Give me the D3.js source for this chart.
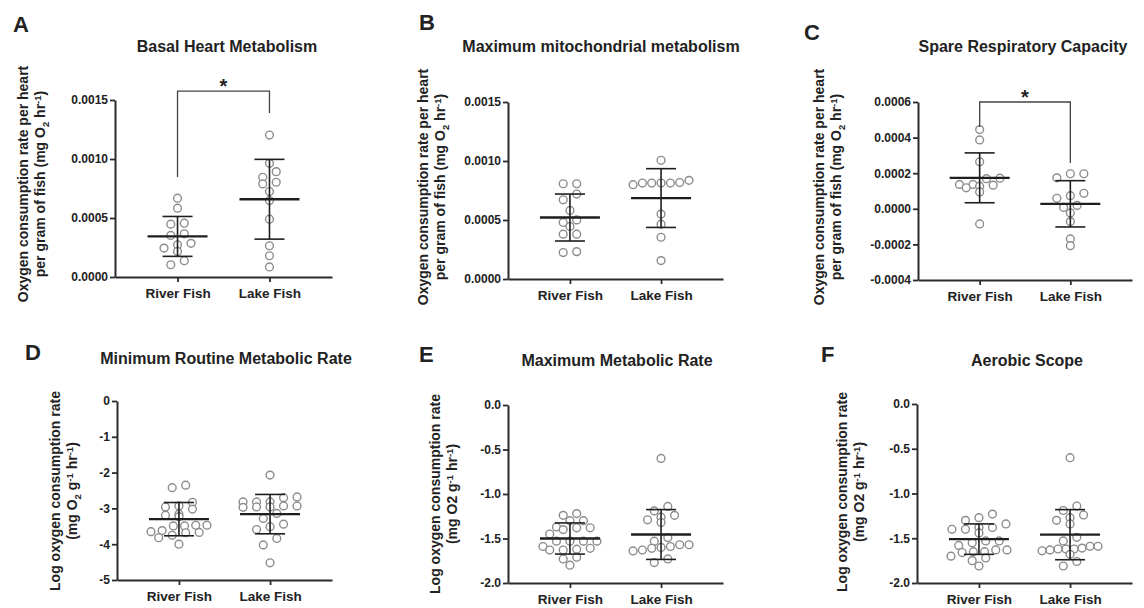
<!DOCTYPE html>
<html>
<head>
<meta charset="utf-8">
<script src="https://cdn.jsdelivr.net/npm/d3@7"></script>
<style>
body{margin:0;background:#fff;}
svg text{font-family:"Liberation Sans",Arial,sans-serif;font-weight:bold;fill:#222;}
</style>
</head>
<body>
<div id="chart"></div>
<script>
const w = 1144;
const h = 608;

const groups = ["River Fish", "Lake Fish"];

// A - basal heart metabolism
const basalRiver = [0.000668,0.000583,0.000456,0.000448,0.000366,0.000352,0.000285,0.000273,0.000245,0.000217,0.000138,0.000104];
const basalLake = [0.001203,0.000963,0.000893,0.000845,0.000803,0.000789,0.000724,0.000648,0.00049,0.000265,0.00018,0.000085];
const basalMean = [0.000344, 0.000659];
const basalSD = [0.000169, 0.000338];
const basalBracket = [0.001576, 0.000847, 0.00139]; // top, left leg end, right leg end

// B - maximum mitochondrial metabolism
const mitoRiver = [0.000807,0.000807,0.00072,0.000671,0.000581,0.000501,0.000479,0.000445,0.00038,0.00038,0.000232,0.000224];
const mitoLake = [0.001006,0.000836,0.000813,0.000813,0.000813,0.000813,0.000818,0.000799,0.00055,0.000465,0.000354,0.000156];
const mitoMean = [0.000521, 0.000686];
const mitoSD = [0.000199, 0.000249];

// C - spare respiratory capacity
const spareRiver = [0.000445,0.000387,0.000264,0.000172,0.000169,0.000137,0.000137,0.000133,0.000127,0.000118,0.000095,-0.000085];
const spareLake = [0.000197,0.000197,0.000174,0.000087,0.000074,0.000059,0.000019,0.000008,-0.000023,-0.000072,-0.000169,-0.000207];
const spareMean = [0.000174, 0.000028];
const spareSD = [0.00014, 0.00013];
const spareBracket = [0.0006, 0.00046, 0.000257];

// D - minimum routine metabolic rate (log)
const mrmrRiver = [-2.35,-2.42,-2.83,-2.93,-2.96,-3.02,-3.16,-3.19,-3.23,-3.47,-3.47,-3.49,-3.49,-3.62,-3.65,-3.67,-3.68,-3.75,-3.82,-4.0];
const mrmrLake = [-2.07,-2.68,-2.70,-2.82,-2.82,-2.82,-2.93,-2.93,-2.96,-2.96,-2.97,-3.14,-3.28,-3.44,-3.51,-3.59,-3.84,-4.02,-4.52];
const mrmrMean = [-3.30, -3.16];
const mrmrSD = [0.465, 0.55];

// E - maximum metabolic rate (log)
const mmrRiver = [-1.22,-1.24,-1.30,-1.30,-1.37,-1.38,-1.38,-1.40,-1.45,-1.53,-1.53,-1.53,-1.53,-1.59,-1.61,-1.62,-1.63,-1.63,-1.71,-1.73,-1.80];
const mmrLake = [-0.60,-1.14,-1.19,-1.24,-1.26,-1.29,-1.32,-1.49,-1.53,-1.57,-1.57,-1.59,-1.60,-1.61,-1.63,-1.64,-1.73,-1.77];
const mmrMean = [-1.50, -1.455];
const mmrSD = [0.175, 0.28];

// F - aerobic scope (log)
const scopeRiver = [-1.23,-1.27,-1.30,-1.34,-1.38,-1.38,-1.40,-1.40,-1.44,-1.53,-1.53,-1.55,-1.58,-1.63,-1.63,-1.65,-1.65,-1.66,-1.70,-1.72,-1.75,-1.81];
const scopeLake = [-0.60,-1.14,-1.19,-1.24,-1.27,-1.30,-1.34,-1.49,-1.53,-1.59,-1.59,-1.61,-1.62,-1.62,-1.62,-1.63,-1.64,-1.68,-1.76,-1.81];
const scopeMean = [-1.51, -1.46];
const scopeSD = [0.17, 0.28];

// tick values
const ticksHeart = [0, 0.0005, 0.001, 0.0015];
const ticksSpare = [-0.0004, -0.0002, 0, 0.0002, 0.0004, 0.0006];
const ticksMrmr = [0, -1, -2, -3, -4, -5];
const ticksLog = [0, -0.5, -1, -1.5, -2];

// axis label lines: [text, shift] shift 1 = subscript, -1 = superscript
const heartLabel = ["Oxygen consumption rate per heart",
  [["per gram of fish (mg O",0],["2",1],[" hr",0],["-1",-1],[")",0]]];
const logLabelSub = ["Log oxygen consumption rate",
  [["(mg O",0],["2",1],[" g",0],["-1",-1],[" hr",0],["-1",-1],[")",0]]];
const logLabel = ["Log oxygen consumption rate",
  [["(mg O2 g",0],["-1",-1],[" hr",0],["-1",-1],[")",0]]];

// hyphen minus like the original
const loc = d3.formatLocale({decimal:".", thousands:",", grouping:[3], currency:["$",""], minus:"-"});

const panels = [
  {letter:"A", lx:13, ly:32, title:"Basal Heart Metabolism", tx:227, ty:52,
   left:115, right:332, top:100, bottom:277, domain:[0,0.0015], ticks:ticksHeart, fmt:".4f",
   data:[basalRiver,basalLake], mean:basalMean, sd:basalSD, bracket:basalBracket,
   label:heartLabel, labX:28, labY:184},
  {letter:"B", lx:419, ly:30, title:"Maximum mitochondrial metabolism", tx:601, ty:52,
   left:508, right:723, top:102, bottom:279, domain:[0,0.0015], ticks:ticksHeart, fmt:".4f",
   data:[mitoRiver,mitoLake], mean:mitoMean, sd:mitoSD, bracket:null,
   label:heartLabel, labX:428, labY:187},
  {letter:"C", lx:804, ly:40, title:"Spare Respiratory Capacity", tx:1023, ty:52,
   left:918, right:1132, top:102, bottom:280, domain:[-0.0004,0.0006], ticks:ticksSpare, fmt:".4f",
   data:[spareRiver,spareLake], mean:spareMean, sd:spareSD, bracket:spareBracket,
   label:heartLabel, labX:824, labY:187},
  {letter:"D", lx:25, ly:360, title:"Minimum Routine Metabolic Rate", tx:226, ty:364,
   left:117, right:332, top:401, bottom:580, domain:[-5,0], ticks:ticksMrmr, fmt:"d",
   data:[mrmrRiver,mrmrLake], mean:mrmrMean, sd:mrmrSD, bracket:null,
   label:logLabelSub, labX:60, labY:491},
  {letter:"E", lx:419, ly:362, title:"Maximum Metabolic Rate", tx:617, ty:366,
   left:508, right:723, top:405, bottom:583, domain:[-2,0], ticks:ticksLog, fmt:".1f",
   data:[mmrRiver,mmrLake], mean:mmrMean, sd:mmrSD, bracket:null,
   label:logLabel, labX:440, labY:494},
  {letter:"F", lx:821, ly:362, title:"Aerobic Scope", tx:1027, ty:366,
   left:917, right:1132, top:404, bottom:583, domain:[-2,0], ticks:ticksLog, fmt:".1f",
   data:[scopeRiver,scopeLake], mean:scopeMean, sd:scopeSD, bracket:null,
   label:logLabel, labX:847, labY:492}
];

const r = 3.9;       // dot radius
const rowH = 6.5;    // px window for one swarm row
const stepMax = 13.5;
const halfMax = 28;

//Spread points that sit at about the same height into centred rows
function swarm(values, y, cx){
  const pts = values.map(v => ({v: v, py: y(v)})).sort((a,b) => a.py - b.py);
  const rows = [];
  let row = null;
  pts.forEach(p => {
    if(!row || p.py - row[0].py > rowH){ row = []; rows.push(row); }
    row.push(p);
  });
  rows.forEach(rw => {
    const n = rw.length;
    const step = n > 1 ? Math.min(stepMax, 2*halfMax/(n-1)) : 0;
    rw.sort((a,b) => a.v - b.v);
    rw.forEach((p,i) => p.px = cx + (i - (n-1)/2)*step);
  });
  return pts;
}

const svg = d3.select("#chart")
.append("svg")
.attr("width", w)
.attr("height", h)
.style("background", "#fff");

panels.forEach(p => {
  const g = svg.append("g");
  const fmt = loc.format(p.fmt);

  const y = d3.scaleLinear().domain(p.domain).range([p.bottom, p.top]);
  const x = d3.scalePoint().domain(groups).range([p.left, p.right]).padding(0.68);

  //Letter and title
  g.append("text").attr("x", p.lx).attr("y", p.ly)
  .style("font-size", "22px").text(p.letter);
  g.append("text").attr("x", p.tx).attr("y", p.ty)
  .attr("text-anchor", "middle").style("font-size", "16px").text(p.title);

  //Y axis
  const yAxis = g.append("g")
  .attr("transform", `translate(${p.left},0)`)
  .call(d3.axisLeft(y).tickValues(p.ticks).tickFormat(fmt).tickSize(5).tickSizeOuter(0).tickPadding(2));
  //X axis
  const xAxis = g.append("g")
  .attr("transform", `translate(0,${p.bottom})`)
  .call(d3.axisBottom(x).tickSize(5).tickSizeOuter(0).tickPadding(6));

  [yAxis, xAxis].forEach(a => {
    a.select(".domain").attr("stroke", "#2a2a2a").attr("stroke-width", 2);
    a.selectAll(".tick line").attr("stroke", "#2a2a2a").attr("stroke-width", 1.8);
    a.selectAll(".tick text").attr("fill", "#222")
    .style("font-family", "'Liberation Sans',Arial,sans-serif").style("font-weight", "bold");
  });
  yAxis.selectAll(".tick text").style("font-size", "12px");
  xAxis.selectAll(".tick text").style("font-size", "13.5px");

  //Y label, two rotated lines
  const lab = g.append("text")
  .attr("transform", `translate(${p.labX},${p.labY}) rotate(-90)`)
  .attr("text-anchor", "middle").style("font-size", "14px");
  lab.append("tspan").attr("x", 0).attr("y", 0).text(p.label[0]);
  const l2 = lab.append("tspan").attr("x", 0).attr("y", 17);
  let shift = 0;
  p.label[1].forEach(([t, s]) => {
    const dy = s*4 - shift;
    shift = s*4;
    l2.append("tspan").attr("dy", dy).style("font-size", s ? "9.5px" : "14px").text(t);
  });

  //Dots
  groups.forEach((grp, gi) => {
    const cx = x(grp);
    const pts = swarm(p.data[gi], y, cx);
    g.append("g").selectAll("circle")
    .data(pts).enter()
    .append("circle")
    .attr("cx", d => d.px)
    .attr("cy", d => d.py)
    .attr("r", r)
    .attr("fill", "#fff")
    .attr("stroke", "#8c8c8c")
    .attr("stroke-width", 1.4);

    //Mean with SD
    const m = p.mean[gi], s = p.sd[gi];
    const bars = g.append("g").attr("stroke", "#1e1e1e");
    bars.append("line").attr("x1", cx).attr("x2", cx)
    .attr("y1", y(m + s)).attr("y2", y(m - s)).attr("stroke-width", 1.6);
    [m + s, m - s].forEach(v => {
      bars.append("line").attr("x1", cx - 15).attr("x2", cx + 15)
      .attr("y1", y(v)).attr("y2", y(v)).attr("stroke-width", 1.6);
    });
    bars.append("line").attr("x1", cx - 30).attr("x2", cx + 30)
    .attr("y1", y(m)).attr("y2", y(m)).attr("stroke-width", 2.3);
  });

  //Significance bracket
  if(p.bracket){
    const [top, l, rr] = p.bracket;
    const x0 = x(groups[0]), x1 = x(groups[1]);
    g.append("path")
    .attr("d", `M${x0},${y(l)}V${y(top)}H${x1}V${y(rr)}`)
    .attr("fill", "none").attr("stroke", "#444").attr("stroke-width", 1.3);
    g.append("text").attr("x", (x0 + x1)/2).attr("y", y(top) + 2)
    .attr("text-anchor", "middle").style("font-size", "20px").text("*");
  }
});
</script>
</body>
</html>
